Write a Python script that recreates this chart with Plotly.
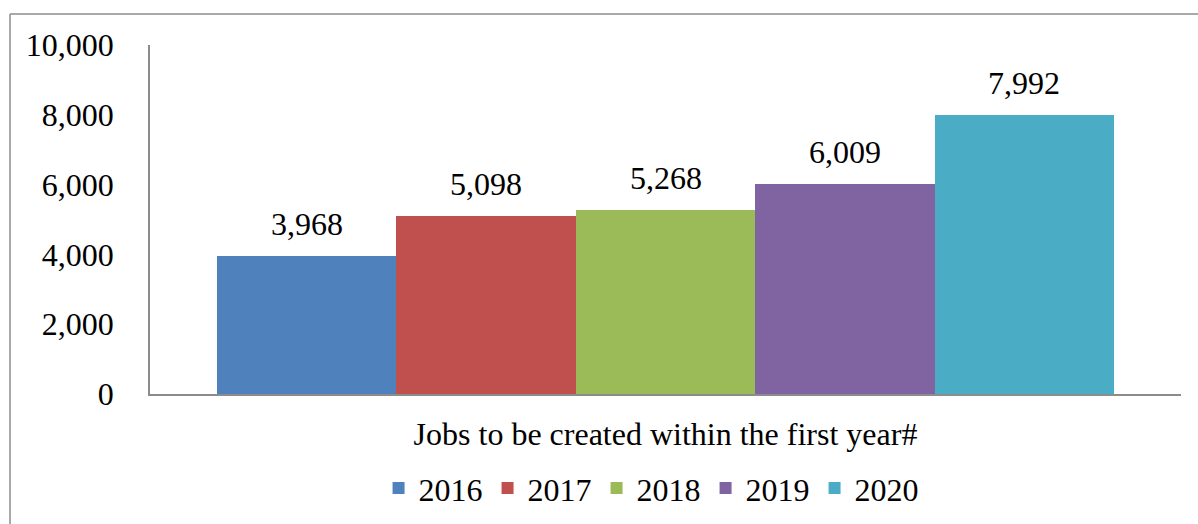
import plotly.graph_objects as go

years = ["2016", "2017", "2018", "2019", "2020"]
values = [3968, 5098, 5268, 6009, 7992]
colors = ["#4F81BD", "#C0504D", "#9BBB59", "#8064A2", "#4BACC6"]
x_title = "Jobs to be created within the first year#"
y_ticks = [0, 2000, 4000, 6000, 8000, 10000]

FONT = "Liberation Serif, Times New Roman, serif"
FS = 32

fig = go.Figure()
for i, (yr, v, c) in enumerate(zip(years, values, colors)):
    fig.add_trace(go.Bar(x=[yr], y=[v], name=yr, marker=dict(color=c, line=dict(width=0)),
                         hoverinfo="skip"))
    fig.add_annotation(x=i, y=v, text=f"{v:,}", showarrow=False, yanchor="bottom",
                       yshift=12, font=dict(family=FONT, size=FS, color="black"))

W, H = 1198, 524
L, R, T, B = 150, 17, 45, 130
pw, ph = W - L - R, H - T - B
bx = (10 - L) / pw
by = ((H - B) - 14) / ph

fig.update_layout(
    width=W, height=H,
    margin=dict(l=L, r=R, t=T, b=B, autoexpand=False),
    paper_bgcolor="white", plot_bgcolor="white",
    bargap=0, barmode="group",
    font=dict(family=FONT, size=FS, color="black"),
    showlegend=True,
    legend=dict(orientation="h", x=0.486, xanchor="center", y=-0.27, yanchor="middle",
                font=dict(family=FONT, size=FS), itemclick=False, itemdoubleclick=False),
    xaxis=dict(type="category", range=[-0.873, 4.873], showticklabels=False, ticks="",
               showline=True, linecolor="#8c8c8c", linewidth=1.5, showgrid=False, zeroline=False,
               title=dict(text=x_title, font=dict(size=FS), standoff=28)),
    yaxis=dict(range=[0, 10000], tickvals=y_ticks, tickformat=",", showline=True,
               linecolor="#8c8c8c", linewidth=1.5, showgrid=False, zeroline=False,
               ticks="", ticklabelstandoff=28, tickfont=dict(size=FS)),
    shapes=[
        dict(type="line", xref="paper", yref="paper", x0=bx, x1=bx, y0=-1, y1=by,
             line=dict(color="#8c8c8c", width=1.5)),
        dict(type="line", xref="paper", yref="paper", x0=bx, x1=1.1, y0=by, y1=by,
             line=dict(color="#8c8c8c", width=1.5)),
    ],
)

fig.write_html("out.html")
